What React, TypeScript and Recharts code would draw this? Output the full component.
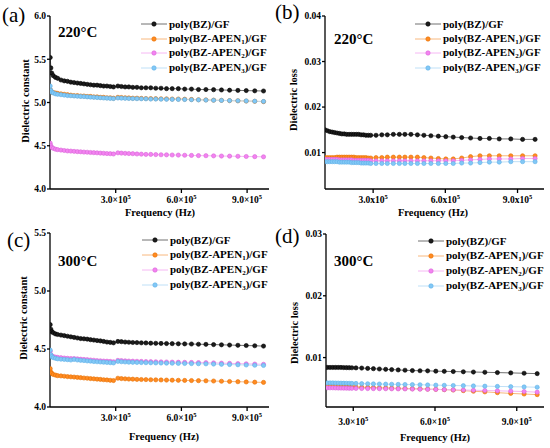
import React from "react";
import { Line, LineChart, XAxis, YAxis } from "recharts";

const SERIF = "'Liberation Serif', 'Times New Roman', serif";

// frequency grids (Hz)
const FREQ_AC = [
  1e3, 4e3, 8e3, 1.5e4, 2.5e4, 3.5e4, 5e4, 6.5e4, 8e4, 9.5e4,
  1.1e5, 1.25e5, 1.4e5, 1.55e5, 1.7e5, 1.85e5, 2.0e5, 2.15e5, 2.3e5, 2.45e5, 2.6e5, 2.75e5, 2.9e5,
  3.1e5, 3.26e5, 3.43e5, 3.6e5, 3.78e5, 3.97e5, 4.17e5, 4.38e5, 4.6e5, 4.83e5, 5.07e5, 5.32e5, 5.58e5,
  5.86e5, 6.15e5, 6.46e5, 6.78e5, 7.12e5, 7.47e5, 7.83e5, 8.2e5, 8.58e5, 8.96e5, 9.35e5, 9.75e5,
];
const FREQ_B = [
  1e5, 1.1e5, 1.2e5, 1.3e5, 1.4e5, 1.5e5, 1.6e5, 1.7e5, 1.8e5, 1.9e5, 2e5, 2.1e5, 2.2e5, 2.3e5, 2.4e5,
  2.5e5, 2.6e5, 2.7e5, 2.8e5,
  2.9e5, 3.12e5, 3.36e5, 3.59e5, 3.84e5, 4.09e5, 4.32e5, 4.57e5, 4.84e5, 5.11e5, 5.4e5, 5.71e5,
  6.02e5, 6.33e5, 6.68e5, 7.05e5, 7.44e5, 7.83e5, 8.24e5, 8.72e5, 9.21e5, 9.73e5,
];
const FREQ_D = [
  2.05e5, 2.15e5, 2.25e5, 2.35e5, 2.45e5, 2.55e5, 2.65e5, 2.75e5, 2.85e5, 2.95e5, 3.1e5,
  3.31e5, 3.53e5, 3.74e5, 3.96e5, 4.19e5, 4.41e5, 4.65e5, 4.9e5, 5.17e5, 5.45e5, 5.73e5,
  6.03e5, 6.34e5, 6.67e5, 7.04e5, 7.41e5, 7.83e5, 8.29e5, 8.78e5, 9.27e5, 9.75e5,
];

// (a) dielectric constant, 220 °C
const A_BZ = [
  5.52, 5.4, 5.34, 5.31, 5.29, 5.28, 5.26, 5.25, 5.245, 5.235,
  5.23, 5.225, 5.22, 5.215, 5.21, 5.205, 5.2, 5.2, 5.195, 5.19, 5.19, 5.185, 5.18,
  5.19, 5.185, 5.18, 5.18, 5.175, 5.175, 5.17, 5.17, 5.17, 5.165, 5.165, 5.16, 5.16,
  5.16, 5.155, 5.155, 5.15, 5.15, 5.148, 5.145, 5.142, 5.14, 5.138, 5.135, 5.133,
];
const A_AP1 = [
  5.15, 5.13, 5.12, 5.115, 5.11, 5.105, 5.1, 5.095, 5.09, 5.085,
  5.08, 5.08, 5.075, 5.075, 5.07, 5.07, 5.065, 5.065, 5.06, 5.06, 5.055, 5.055, 5.05,
  5.06, 5.058, 5.055, 5.053, 5.05, 5.05, 5.048, 5.046, 5.045, 5.044, 5.043, 5.042, 5.04,
  5.04, 5.038, 5.035, 5.032, 5.03, 5.027, 5.025, 5.022, 5.02, 5.017, 5.014, 5.01,
];
const A_AP2 = [
  4.53, 4.5, 4.48, 4.47, 4.46, 4.455, 4.45, 4.445, 4.44, 4.438,
  4.435, 4.432, 4.43, 4.427, 4.425, 4.422, 4.42, 4.418, 4.415, 4.413, 4.41, 4.408, 4.405,
  4.418, 4.415, 4.412, 4.41, 4.408, 4.405, 4.403, 4.4, 4.4, 4.398, 4.396, 4.395, 4.393,
  4.392, 4.39, 4.388, 4.386, 4.385, 4.383, 4.381, 4.38, 4.378, 4.376, 4.374, 4.372,
];
const A_AP3 = [
  5.19, 5.14, 5.12, 5.11, 5.1, 5.095, 5.09, 5.085, 5.08, 5.078,
  5.075, 5.072, 5.07, 5.068, 5.065, 5.062, 5.06, 5.057, 5.055, 5.052, 5.05, 5.047, 5.045,
  5.052, 5.05, 5.048, 5.046, 5.045, 5.044, 5.043, 5.042, 5.04, 5.04, 5.038, 5.037, 5.036,
  5.035, 5.034, 5.032, 5.03, 5.028, 5.026, 5.024, 5.022, 5.02, 5.018, 5.015, 5.012,
];

// (b) dielectric loss, 220 °C
const B_BZ = [
  0.015, 0.0148, 0.0146, 0.0145, 0.0144, 0.0143, 0.0142, 0.0141, 0.0141, 0.014, 0.014, 0.014,
  0.014, 0.014, 0.014, 0.0139, 0.0139, 0.0138, 0.0138,
  0.0138, 0.0138, 0.0139, 0.0139, 0.014, 0.014, 0.014, 0.014, 0.0139, 0.0138, 0.0137, 0.0136,
  0.0135, 0.0134, 0.0133, 0.0132, 0.0131, 0.0131, 0.013, 0.013, 0.0129, 0.0129,
];
const B_AP1 = [
  0.0089, 0.0089, 0.0089, 0.0089, 0.0089, 0.009, 0.009, 0.009, 0.009, 0.009, 0.009, 0.009,
  0.009, 0.0089, 0.0089, 0.0089, 0.0089, 0.0089, 0.0088,
  0.0088, 0.0089, 0.0089, 0.009, 0.009, 0.009, 0.009, 0.009, 0.009, 0.0089, 0.0088, 0.0087,
  0.0086, 0.0086, 0.0088, 0.0091, 0.0093, 0.0093, 0.0093, 0.0093, 0.0093, 0.0093,
];
const B_AP2 = [
  0.0085, 0.0085, 0.0085, 0.0085, 0.0085, 0.0085, 0.0084, 0.0084, 0.0084, 0.0084, 0.0084, 0.0084,
  0.0083, 0.0083, 0.0083, 0.0083, 0.0083, 0.0083, 0.0083,
  0.0082, 0.0082, 0.0082, 0.0082, 0.0082, 0.0082, 0.0082, 0.0082, 0.0082, 0.0082, 0.0082, 0.0082,
  0.0082, 0.0082, 0.0083, 0.0084, 0.0085, 0.0086, 0.0086, 0.0086, 0.0087, 0.0087,
];
const B_AP3 = [
  0.008, 0.008, 0.008, 0.008, 0.008, 0.008, 0.0079, 0.0079, 0.0079, 0.0079, 0.0079, 0.0078,
  0.0078, 0.0078, 0.0078, 0.0077, 0.0077, 0.0077, 0.0077,
  0.0076, 0.0076, 0.0076, 0.0076, 0.0076, 0.0076, 0.0076, 0.0076, 0.0076, 0.0076, 0.0076, 0.0076,
  0.0076, 0.0076, 0.0077, 0.0077, 0.0078, 0.0079, 0.0079, 0.008, 0.008, 0.008,
];

// (c) dielectric constant, 300 °C
const C_BZ = [
  4.71, 4.67, 4.65, 4.64, 4.63, 4.625, 4.62, 4.615, 4.61, 4.605,
  4.6, 4.595, 4.59, 4.588, 4.585, 4.58, 4.577, 4.573, 4.57, 4.565, 4.56, 4.557, 4.553,
  4.565, 4.563, 4.56, 4.558, 4.556, 4.555, 4.553, 4.552, 4.55, 4.549, 4.548, 4.547, 4.546,
  4.545, 4.544, 4.543, 4.541, 4.54, 4.538, 4.536, 4.534, 4.532, 4.53, 4.528, 4.525,
];
const C_AP1 = [
  4.33, 4.3, 4.29, 4.28, 4.275, 4.27, 4.268, 4.265, 4.262, 4.26,
  4.258, 4.255, 4.253, 4.25, 4.248, 4.245, 4.243, 4.24, 4.238, 4.235, 4.233, 4.23, 4.228,
  4.248, 4.245, 4.243, 4.241, 4.24, 4.238, 4.237, 4.236, 4.235, 4.234, 4.233, 4.232, 4.231,
  4.23, 4.229, 4.228, 4.227, 4.226, 4.224, 4.222, 4.22, 4.218, 4.216, 4.214, 4.212,
];
const C_AP2 = [
  4.48, 4.45, 4.44, 4.435, 4.43, 4.428, 4.425, 4.422, 4.42, 4.418,
  4.418, 4.415, 4.412, 4.41, 4.408, 4.405, 4.403, 4.4, 4.398, 4.396, 4.395, 4.393, 4.39,
  4.402, 4.4, 4.398, 4.396, 4.395, 4.394, 4.393, 4.392, 4.391, 4.39, 4.389, 4.388, 4.387,
  4.386, 4.385, 4.384, 4.383, 4.382, 4.38, 4.378, 4.376, 4.374, 4.372, 4.37, 4.368,
];
const C_AP3 = [
  4.49, 4.45, 4.435, 4.425, 4.42, 4.415, 4.412, 4.41, 4.408, 4.405,
  4.41, 4.405, 4.402, 4.4, 4.397, 4.395, 4.392, 4.39, 4.388, 4.386, 4.384, 4.382, 4.38,
  4.393, 4.39, 4.388, 4.386, 4.385, 4.384, 4.383, 4.382, 4.381, 4.38, 4.379, 4.378, 4.377,
  4.376, 4.375, 4.374, 4.373, 4.372, 4.37, 4.368, 4.366, 4.364, 4.362, 4.36, 4.358,
];

// (d) dielectric loss, 300 °C
const D_BZ = [
  0.0084, 0.0084, 0.0084, 0.0084, 0.0084, 0.0084, 0.00838, 0.00837, 0.00836, 0.00835, 0.00833,
  0.0083, 0.00825, 0.0082, 0.00815, 0.0081, 0.00805, 0.008, 0.00795, 0.0079, 0.00787, 0.00785,
  0.0078, 0.00777, 0.00774, 0.0077, 0.00766, 0.00762, 0.00757, 0.00752, 0.00746, 0.0074,
];
const D_AP1 = [
  0.0054, 0.0054, 0.00538, 0.00536, 0.00534, 0.00532, 0.0053, 0.00528, 0.00526, 0.00524, 0.00522,
  0.0052, 0.00517, 0.00514, 0.00511, 0.00508, 0.00505, 0.00502, 0.005, 0.00497, 0.00494, 0.0049,
  0.00486, 0.00481, 0.00475, 0.00465, 0.00455, 0.00445, 0.00432, 0.0042, 0.0041, 0.004,
];
const D_AP2 = [
  0.0051, 0.0051, 0.0051, 0.00508, 0.00507, 0.00506, 0.00505, 0.00504, 0.00503, 0.00502, 0.005,
  0.00499, 0.00498, 0.00497, 0.00496, 0.00495, 0.00494, 0.00493, 0.00492, 0.0049, 0.00488, 0.00486,
  0.00484, 0.00481, 0.00478, 0.00475, 0.00471, 0.00467, 0.00462, 0.00456, 0.0045, 0.0044,
];
const D_AP3 = [
  0.0059, 0.0059, 0.0059, 0.00588, 0.00587, 0.00586, 0.00585, 0.00584, 0.00583, 0.00582, 0.00581,
  0.00578, 0.00576, 0.00574, 0.00572, 0.0057, 0.00568, 0.00566, 0.00564, 0.00562, 0.0056, 0.00557,
  0.00554, 0.00551, 0.00548, 0.00545, 0.00541, 0.00537, 0.00533, 0.00529, 0.00525, 0.0052,
];

const X_TICKS = [3e5, 6e5, 9e5];

const SERIES = [
  { key: "s0", pre: "poly(BZ)/GF", sub: "", post: "", line: "#707070", fill: "#1c1c1c", edge: "#000000" },
  { key: "s1", pre: "poly(BZ-APEN", sub: "1", post: ")/GF", line: "#f8b87e", fill: "#ff8b22", edge: "#e56f00" },
  { key: "s2", pre: "poly(BZ-APEN", sub: "2", post: ")/GF", line: "#f6b8f4", fill: "#f383f1", edge: "#d964d7" },
  { key: "s3", pre: "poly(BZ-APEN", sub: "3", post: ")/GF", line: "#bfe0f7", fill: "#82c8f6", edge: "#5eb0e8" },
];

function buildRows(freq: number[], cols: number[][]) {
  return freq.map((f, i) => ({ f, s0: cols[0][i], s1: cols[1][i], s2: cols[2][i], s3: cols[3][i] }));
}

const PANELS = [
  {
    tag: "(a)", temp: "220°C", left: 0, top: 0, rows: buildRows(FREQ_AC, [A_BZ, A_AP1, A_AP2, A_AP3]),
    xDomain: [0, 1e6], yDomain: [4, 6], yTicks: [4, 4.5, 5, 5.5, 6], digits: 1, sep: "×",
    yLabel: "Dielectric constant", mt: 16, yw: 50, xh: 35, tickDy: 8,
    yl: { x: 25, y: 101 }, xl: { x: 160, y: 212 }, tg: { x: 2, y: 15 }, tp: { x: 58, y: 32 }, lg: { x: 141, y: 17, gap: 14.6 },
  },
  {
    tag: "(b)", temp: "220°C", left: 275, top: 0, rows: buildRows(FREQ_B, [B_BZ, B_AP1, B_AP2, B_AP3]),
    xDomain: [1e5, 1.01e6], yDomain: [0.002, 0.04], yTicks: [0.01, 0.02, 0.03, 0.04], digits: 2, sep: "x",
    yLabel: "Dielectric loss", mt: 16, yw: 50, xh: 35, tickDy: 8,
    yl: { x: 18, y: 100 }, xl: { x: 158, y: 212 }, tg: { x: 0, y: 12 }, tp: { x: 59, y: 39 }, lg: { x: 140, y: 17, gap: 14.6 },
  },
  {
    tag: "(c)", temp: "300°C", left: 0, top: 224, rows: buildRows(FREQ_AC, [C_BZ, C_AP1, C_AP2, C_AP3]),
    xDomain: [0, 1e6], yDomain: [4, 5.5], yTicks: [4, 4.5, 5, 5.5], digits: 1, sep: "×",
    yLabel: "Dielectric constant", mt: 9, yw: 50, xh: 41, tickDy: 8.3,
    yl: { x: 23, y: 94 }, xl: { x: 164, y: 212 }, tg: { x: 7, y: 16 }, tp: { x: 58, y: 37 }, lg: { x: 142, y: 8.5, gap: 15 },
  },
  {
    tag: "(d)", temp: "300°C", left: 275, top: 224, rows: buildRows(FREQ_D, [D_BZ, D_AP1, D_AP2, D_AP3]),
    xDomain: [2e5, 1e6], yDomain: [0.002, 0.03], yTicks: [0.01, 0.02, 0.03], digits: 2, sep: "×",
    yLabel: "Dielectric loss", mt: 10, yw: 51, xh: 41, tickDy: 12.3,
    yl: { x: 19, y: 109 }, xl: { x: 160, y: 213 }, tg: { x: 0, y: 12 }, tp: { x: 59, y: 37 }, lg: { x: 143, y: 9.5, gap: 15 },
  },
];

function FreqTick(props: any) {
  const { x, y, payload, sep, dy } = props;
  return (
    <text x={x} y={y + dy} textAnchor="middle" fontFamily={SERIF} fontWeight={700} fontSize={9.5} fill="#000">
      {(payload.value / 1e5).toFixed(1)}
      {sep}10
      <tspan dy={-4} fontSize={6.5}>5</tspan>
    </text>
  );
}

function SeriesLegend({ x, y, gap }: { x: number; y: number; gap: number }) {
  return (
    <div style={{ position: "absolute", left: x, top: y, fontFamily: SERIF, fontWeight: 700, fontSize: 11 }}>
      {SERIES.map((s) => (
        <div key={s.key} style={{ display: "flex", alignItems: "center", height: gap, whiteSpace: "nowrap" }}>
          <svg width={28} height={8} style={{ display: "block" }}>
            <line x1={0} y1={4} x2={26} y2={4} stroke={s.line} strokeWidth={1} />
            <circle cx={13} cy={4} r={2.2} fill={s.fill} stroke={s.edge} strokeWidth={0.6} />
          </svg>
          <span>
            {s.pre}
            {s.sub && <sub style={{ fontSize: 7, verticalAlign: "-2px" }}>{s.sub}</sub>}
            {s.post}
          </span>
        </div>
      ))}
    </div>
  );
}

function Panel({ p }: { p: (typeof PANELS)[number] }) {
  const axisLine = { stroke: "#000", strokeWidth: 1.3 };
  return (
    <div style={{ position: "absolute", left: p.left, top: p.top, width: 275, height: 224 }}>
      <LineChart width={275} height={224} data={p.rows} margin={{ top: p.mt, right: 6, bottom: 0, left: 0 }}>
        <XAxis
          dataKey="f"
          type="number"
          domain={p.xDomain}
          ticks={X_TICKS}
          allowDataOverflow
          height={p.xh}
          axisLine={axisLine}
          tickLine={axisLine}
          tickSize={4}
          tick={(t: any) => <FreqTick {...t} sep={p.sep} dy={p.tickDy} />}
        />
        <XAxis xAxisId="top" orientation="top" dataKey="f" type="number" domain={p.xDomain} allowDataOverflow height={0} axisLine={axisLine} tick={false} tickLine={false} />
        <YAxis
          type="number"
          domain={p.yDomain}
          ticks={p.yTicks}
          allowDataOverflow
          width={p.yw}
          axisLine={axisLine}
          tickLine={axisLine}
          tickSize={3}
          tickMargin={1}
          tickFormatter={(v: number) => v.toFixed(p.digits)}
          tick={{ fill: "#000", fontSize: 9.5, fontWeight: 700, fontFamily: SERIF }}
        />
        <YAxis yAxisId="right" orientation="right" type="number" domain={p.yDomain} allowDataOverflow width={0} axisLine={axisLine} tick={false} tickLine={false} />
        {SERIES.map((s) => (
          <Line
            key={s.key}
            dataKey={s.key}
            type="linear"
            stroke={s.line}
            strokeWidth={1}
            dot={{ r: 2.1, fill: s.fill, stroke: s.edge, strokeWidth: 0.6 }}
            isAnimationActive={false}
          />
        ))}
      </LineChart>
      <div style={{ position: "absolute", left: p.tg.x, top: p.tg.y - 11, fontFamily: SERIF, fontSize: 21, lineHeight: "22px" }}>{p.tag}</div>
      <div style={{ position: "absolute", left: p.tp.x, top: p.tp.y - 8, fontFamily: SERIF, fontSize: 15, fontWeight: 700, lineHeight: "16px" }}>{p.temp}</div>
      <SeriesLegend x={p.lg.x} y={p.lg.y} gap={p.lg.gap} />
      <div
        style={{
          position: "absolute", left: p.yl.x, top: p.yl.y, transform: "translate(-50%, -50%) rotate(-90deg)",
          fontFamily: SERIF, fontSize: 10.5, fontWeight: 700, whiteSpace: "nowrap", lineHeight: "11px",
        }}
      >
        {p.yLabel}
      </div>
      <div
        style={{
          position: "absolute", left: p.xl.x, top: p.xl.y, transform: "translate(-50%, -50%)",
          fontFamily: SERIF, fontSize: 10.5, fontWeight: 700, whiteSpace: "nowrap", lineHeight: "11px",
        }}
      >
        Frequency (Hz)
      </div>
    </div>
  );
}

export default function App() {
  return (
    <div style={{ position: "absolute", left: 0, top: 0, width: 550, height: 448, background: "#fff" }}>
      {PANELS.map((p) => (
        <Panel key={p.tag} p={p} />
      ))}
    </div>
  );
}
